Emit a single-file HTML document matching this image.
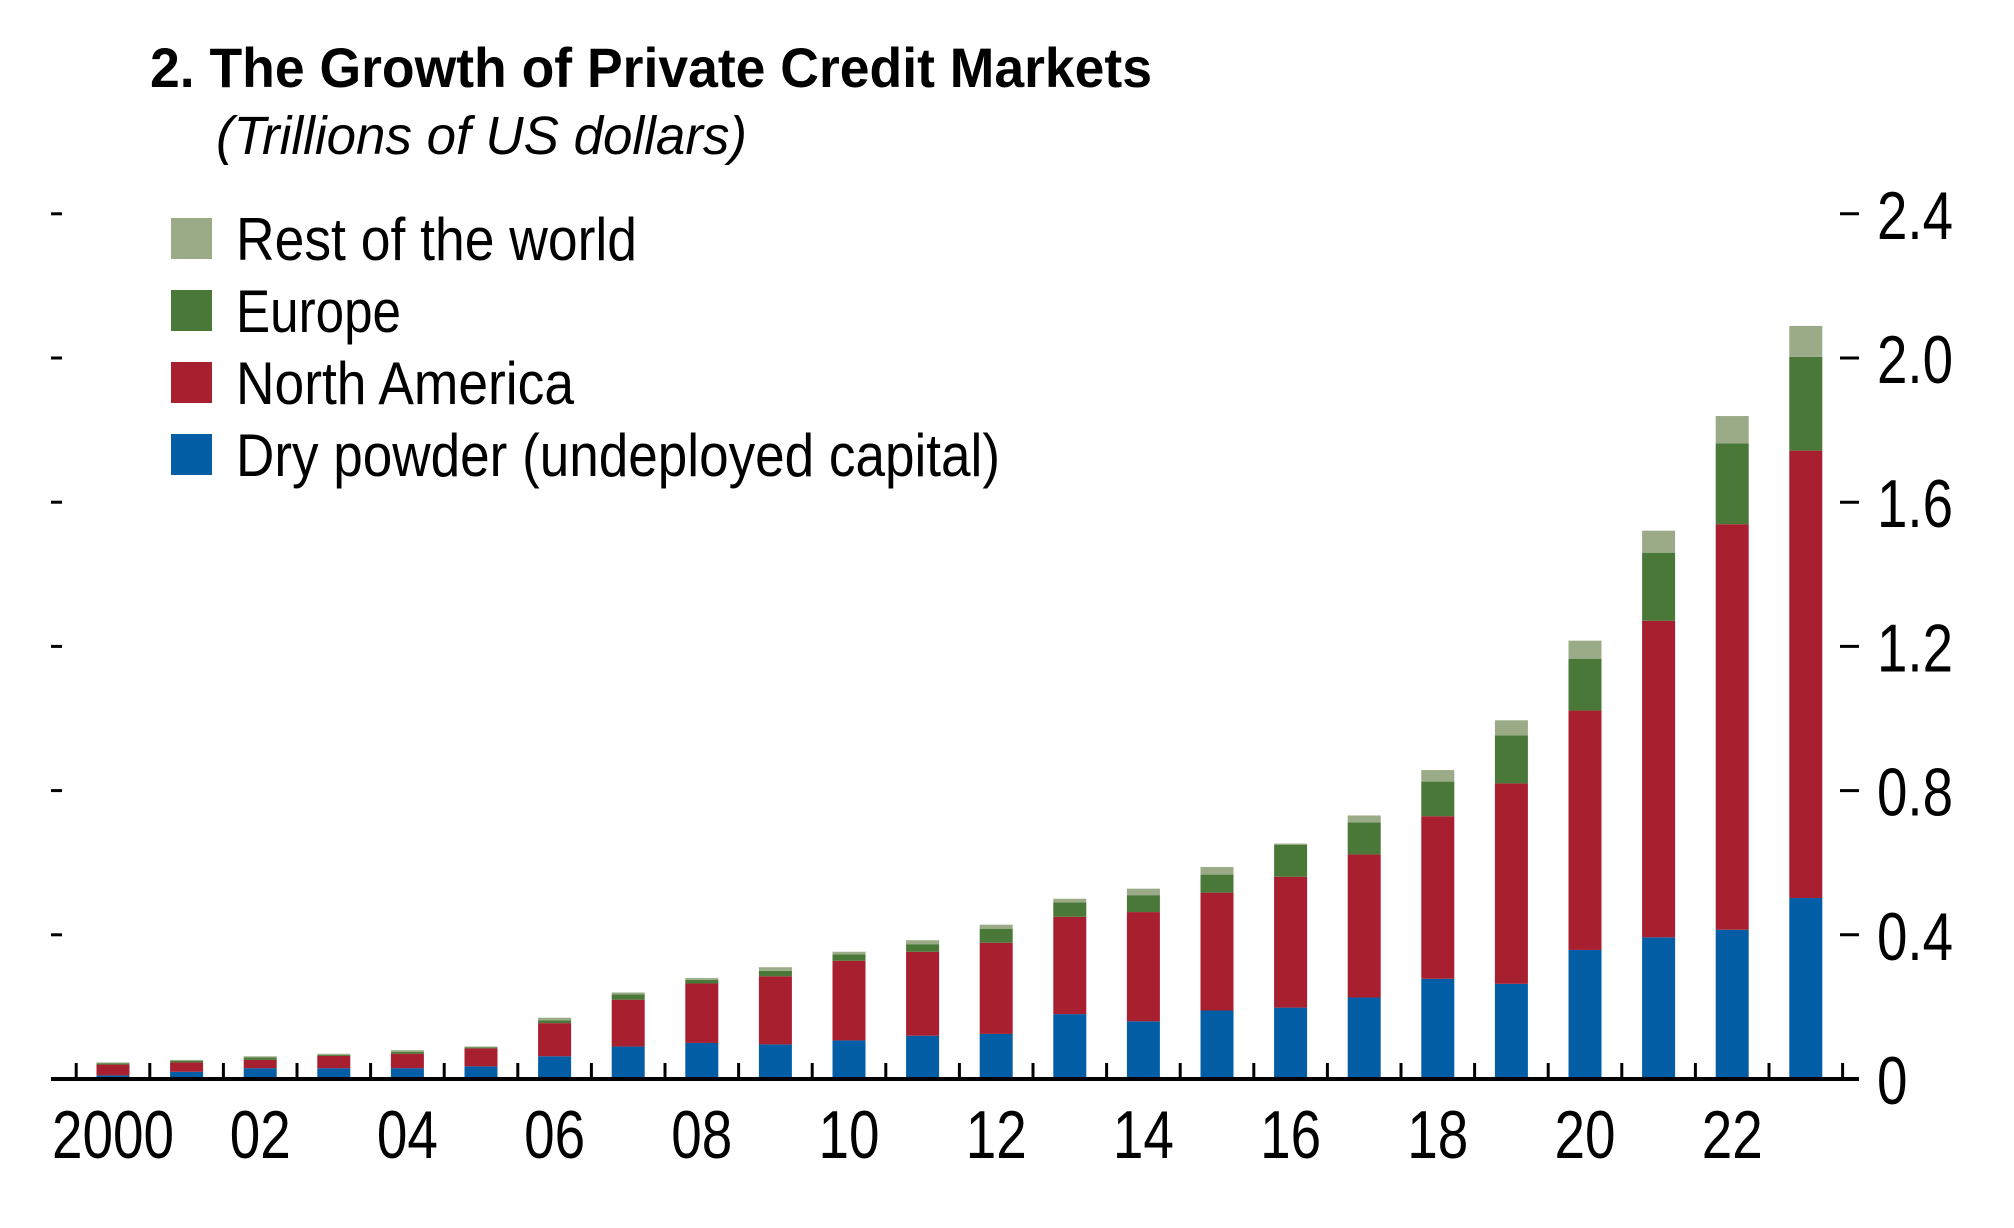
<!DOCTYPE html>
<html><head><meta charset="utf-8"><style>
html,body{margin:0;padding:0;background:#fff;}
svg{display:block;font-family:"Liberation Sans Narrow","Liberation Sans",sans-serif;}
</style></head>
<body>
<svg id="chart" width="2014" height="1228" viewBox="0 0 2014 1228">
<text x="150" y="87" font-size="56" font-weight="bold" textLength="1002" lengthAdjust="spacingAndGlyphs">2. The Growth of Private Credit Markets</text>
<text x="216" y="154" font-size="54" font-style="italic" textLength="531" lengthAdjust="spacingAndGlyphs">(Trillions of US dollars)</text>
<g id="legend"></g>
<g id="bars"></g>
<g id="axes"></g>
</svg>
<script>
const years = ["2000","01","02","03","04","05","06","07","08","09","10","11","12","13","14","15","16","17","18","19","20","21","22","23"];
const xLabels = ["2000","02","04","06","08","10","12","14","16","18","20","22"];
const dryPowder = [0.01,0.02,0.03,0.03,0.03,0.035,0.063,0.09,0.10,0.096,0.107,0.12,0.125,0.18,0.16,0.19,0.198,0.226,0.278,0.264,0.358,0.393,0.414,0.502];
const northAmerica = [0.03,0.026,0.023,0.034,0.04,0.05,0.092,0.13,0.165,0.189,0.221,0.233,0.253,0.27,0.303,0.327,0.363,0.397,0.451,0.556,0.664,0.878,1.125,1.241];
const europe = [0.003,0.004,0.007,0.003,0.005,0.003,0.008,0.015,0.01,0.015,0.018,0.021,0.039,0.04,0.047,0.05,0.089,0.089,0.096,0.133,0.144,0.189,0.224,0.26];
const restOfWorld = [0.003,0.003,0.003,0.003,0.005,0.002,0.007,0.005,0.005,0.01,0.007,0.011,0.011,0.01,0.018,0.021,0.003,0.019,0.032,0.042,0.05,0.061,0.076,0.086];
const yTicks = [0,0.4,0.8,1.2,1.6,2.0,2.4];
const yTickLabels = ["0","0.4","0.8","1.2","1.6","2.0","2.4"];
const seriesNames = ["Rest of the world","Europe","North America","Dry powder (undeployed capital)"];
const colors = {dry:"#045ea6",na:"#a81f30",eu:"#4a7838",row:"#9bab87"};

const NS="http://www.w3.org/2000/svg";
const y0=1079, perUnit=360.5, x0=113, step=73.6, bw=33;
function yScale(v){return y0 - v*perUnit;}
function xScale(i){return x0 + i*step;}
function mk(tag,attrs,parent){const e=document.createElementNS(NS,tag);for(const k in attrs)e.setAttribute(k,attrs[k]);parent.appendChild(e);return e;}
function labelWidth(s){let w=0;for(const c of s)w+=(c==='.'?15:30.5);return w;}

const bars=document.getElementById('bars');
const series=[["dry",dryPowder],["na",northAmerica],["eu",europe],["row",restOfWorld]];
years.forEach((yr,i)=>{
  let base=0;
  series.forEach(([key,arr])=>{
    const v=arr[i];
    const r=mk('rect',{x:xScale(i)-bw/2,y:yScale(base+v),width:bw,height:v*perUnit,fill:colors[key]},bars);
    
    
    base+=v;
  });
});

const axes=document.getElementById('axes');
const axisLine=mk('line',{x1:51,x2:1859,y1:y0,y2:y0,stroke:"#000","stroke-width":4},axes);


for(let i=0;i<=years.length;i++){
  const tx=xScale(i)-step/2;
  const t=mk('line',{x1:tx,x2:tx,y1:y0,y2:y0-16,stroke:"#000","stroke-width":3},axes);
  
  
}
xLabels.forEach((lab,j)=>{
  const t=mk('text',{x:xScale(j*2),y:1158,"font-size":68,"text-anchor":"middle",textLength:labelWidth(lab),lengthAdjust:"spacingAndGlyphs"},axes);
  t.textContent=lab;
  
  
});
yTicks.forEach((v,j)=>{
  const yy=yScale(v);
  if(v>0){
    const l=mk('line',{x1:51,x2:62,y1:yy,y2:yy,stroke:"#000","stroke-width":3},axes);
    
    
  }
  const r=mk('line',{x1:1840,x2:1859,y1:yy,y2:yy,stroke:"#000","stroke-width":3},axes);
  
  
  const t=mk('text',{x:1877,y:yy+25,"font-size":68,textLength:labelWidth(yTickLabels[j]),lengthAdjust:"spacingAndGlyphs"},axes);
  t.textContent=yTickLabels[j];
  
  
});

const legend=document.getElementById('legend');
const legColors=[colors.row,colors.eu,colors.na,colors.dry];
const legWidths=[401,165,338,764];
seriesNames.forEach((name,j)=>{
  const yy=218+j*72;
  const s=mk('rect',{x:171,y:yy,width:41,height:41,fill:legColors[j]},legend);
  
  
  const t=mk('text',{x:236,y:yy+42,"font-size":60,textLength:legWidths[j],lengthAdjust:"spacingAndGlyphs"},legend);
  t.textContent=name;
  
  
});
</script>
</body></html>
